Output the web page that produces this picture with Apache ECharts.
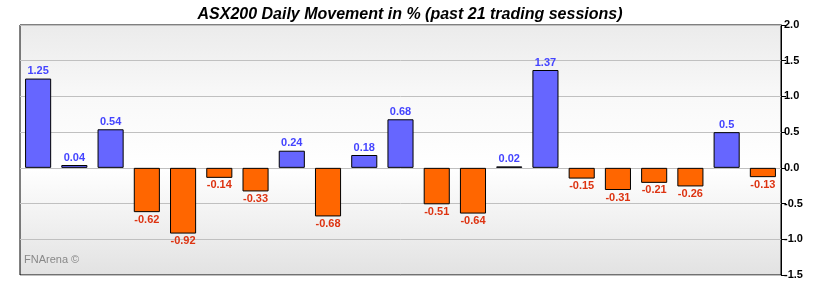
<!DOCTYPE html>
<html>
<head>
<meta charset="utf-8">
<script src="https://cdn.jsdelivr.net/npm/echarts@6/dist/echarts.min.js"></script>
<style>html,body{margin:0;padding:0;background:#fff;}#c{width:820px;height:290px;}</style>
</head>
<body>
<div id="c"></div>
<script>
const categories = ['1','2','3','4','5','6','7','8','9','10','11','12','13','14','15','16','17','18','19','20','21'];
const values = [1.25, 0.04, 0.54, -0.62, -0.92, -0.14, -0.33, 0.24, -0.68, 0.18, 0.68, -0.51, -0.64, 0.02, 1.37, -0.15, -0.31, -0.21, -0.26, 0.5, -0.13];
const yTicks = [-1.5, -1.0, -0.5, 0.0, 0.5, 1.0, 1.5, 2.0];

const chart = echarts.init(document.getElementById('c'), null, {renderer: 'canvas'});
const FONT = '"Liberation Sans", Arial, sans-serif';
const data = values.map(v => ({
  value: v,
  itemStyle: {color: v >= 0 ? '#6666ff' : '#ff6600', borderColor: '#000', borderWidth: 1},
  label: {
    show: true,
    position: v >= 0 ? 'top' : 'bottom',
    distance: 2,
    color: v >= 0 ? '#4444ff' : '#dd3311',
    fontFamily: FONT, fontWeight: 'bold', fontSize: 11,
    formatter: () => String(v)
  }
}));
chart.setOption({
  animation: false,
  title: {
    text: 'ASX200 Daily Movement in % (past 21 trading sessions)',
    left: 'center', top: 2,
    textStyle: {fontFamily: FONT, fontSize: 16, fontWeight: 'bold', fontStyle: 'italic', color: '#000'}
  },
  grid: {
    left: 20, right: 39, top: 25, bottom: 15,
    show: true, borderColor: '#000', borderWidth: 1,
    backgroundColor: {
      type: 'linear', x: 0, y: 0, x2: 0, y2: 1,
      colorStops: [
        {offset: 0, color: '#ebebeb'},
        {offset: 0.3, color: '#f9f9f9'},
        {offset: 0.57, color: '#ffffff'},
        {offset: 1, color: '#e2e2e2'}
      ]
    }
  },
  graphic: [{
    type: 'text', left: 24, top: 254,
    style: {text: 'FNArena \u00a9', fill: '#888', font: '11px "Liberation Sans", Arial, sans-serif'}
  }],
  xAxis: {
    type: 'category', data: categories,
    axisLine: {show: false}, axisTick: {show: false}, axisLabel: {show: false},
    splitLine: {show: false}
  },
  yAxis: {
    type: 'value', position: 'right', min: yTicks[0], max: yTicks[yTicks.length - 1], interval: 0.5,
    axisLine: {show: true, lineStyle: {color: '#000', width: 1}},
    axisTick: {show: true, inside: false, length: 5, lineStyle: {color: '#000'}},
    axisLabel: {margin: 3, color: '#000', fontFamily: FONT, fontWeight: 'bold', fontSize: 11,
      formatter: v => v.toFixed(1)},
    splitLine: {show: true, lineStyle: {color: '#c0c0c0', width: 1}}
  },
  series: [{
    type: 'bar', data: data, barWidth: '72%'
  }]
});
</script>
</body>
</html>
